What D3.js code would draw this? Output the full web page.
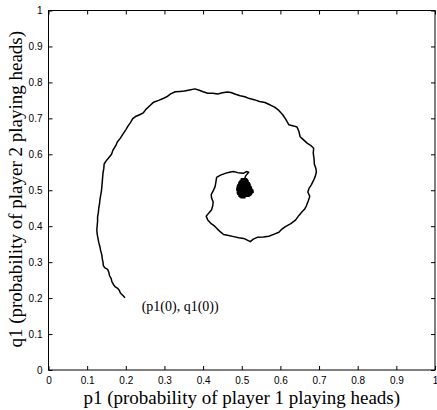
<!DOCTYPE html>
<html lang="en">
  <head>
    <meta charset="UTF-8" />
    <title>Trajectory of p1, q1</title>
    <style>
      body {
        margin: 0;
        background: #fff;
      }
      .tick text {
        font-family: "Liberation Sans", Arial, sans-serif;
        font-size: 10px;
        fill: #000;
      }
      .axis-title {
        font-family: "Liberation Serif", "Times New Roman", serif;
        font-size: 19px;
        fill: #000;
      }
      .note {
        font-family: "Liberation Serif", "Times New Roman", serif;
        font-size: 14px;
        fill: #000;
      }
      .traj {
        fill: none;
        stroke: #000;
        stroke-width: 1.5px;
        stroke-linejoin: round;
      }
    </style>
  </head>
  <body>
    <svg width="437" height="410"></svg>

    <script src="https://d3js.org/d3.v7.min.js"></script>
    <script>
      // tick values for both axes
      const ticks = [0, 0.1, 0.2, 0.3, 0.4, 0.5, 0.6, 0.7, 0.8, 0.9, 1];

      // trajectory, outer spiral
      const p1 = [
        0.198, 0.192, 0.186, 0.183, 0.178, 0.172, 0.168, 0.164, 0.162, 0.158,
        0.156, 0.153, 0.146, 0.142, 0.141, 0.139, 0.138, 0.135, 0.133, 0.13,
        0.128, 0.126, 0.125, 0.126, 0.127, 0.127, 0.129, 0.13, 0.132, 0.133,
        0.135, 0.137, 0.138, 0.139, 0.14, 0.141, 0.143, 0.144, 0.15, 0.158,
        0.163, 0.167, 0.174, 0.178, 0.186, 0.193, 0.2, 0.206, 0.212, 0.218,
        0.225, 0.236, 0.245, 0.252, 0.262, 0.272, 0.285, 0.298, 0.306, 0.316,
        0.328, 0.34, 0.352, 0.365, 0.379, 0.39, 0.4, 0.412, 0.425, 0.438,
        0.45, 0.463, 0.472, 0.484, 0.496, 0.508, 0.52, 0.532, 0.546, 0.56,
        0.574, 0.585, 0.596, 0.606, 0.614, 0.622, 0.634, 0.643, 0.648, 0.651,
        0.66, 0.669, 0.678, 0.686, 0.685, 0.687, 0.688, 0.692, 0.693, 0.69,
        0.686, 0.68, 0.674, 0.671, 0.676, 0.672, 0.667, 0.663, 0.656, 0.648,
        0.639, 0.627, 0.613, 0.604, 0.596, 0.584, 0.57, 0.556, 0.54, 0.53,
        0.522, 0.513, 0.505, 0.492, 0.479, 0.466, 0.453, 0.445, 0.437, 0.43,
        0.42, 0.412, 0.408, 0.416, 0.422, 0.425, 0.426, 0.422, 0.421, 0.426,
        0.431, 0.433, 0.435, 0.445, 0.457, 0.468, 0.478, 0.49, 0.504, 0.512,
        0.518, 0.51, 0.507
      ];
      const q1 = [
        0.201, 0.208, 0.214, 0.222, 0.228, 0.232, 0.238, 0.246, 0.255, 0.262,
        0.272, 0.28, 0.284, 0.29, 0.3, 0.31, 0.32, 0.332, 0.343, 0.355,
        0.366, 0.378, 0.39, 0.402, 0.414, 0.426, 0.438, 0.45, 0.462, 0.473,
        0.486, 0.498, 0.51, 0.522, 0.535, 0.548, 0.56, 0.573, 0.583, 0.593,
        0.6, 0.612, 0.624, 0.634, 0.645, 0.657, 0.668, 0.679, 0.688, 0.699,
        0.705, 0.71, 0.715, 0.725, 0.735, 0.745, 0.75, 0.756, 0.76, 0.768,
        0.774, 0.775, 0.776, 0.779, 0.782, 0.778, 0.774, 0.77, 0.77, 0.768,
        0.771, 0.773, 0.772, 0.767, 0.763, 0.76, 0.755, 0.752, 0.747, 0.744,
        0.737, 0.731, 0.722, 0.71, 0.697, 0.682, 0.679, 0.676, 0.663, 0.649,
        0.64, 0.631, 0.625, 0.617, 0.603, 0.588, 0.572, 0.56, 0.55, 0.538,
        0.528, 0.515, 0.505, 0.495, 0.483, 0.47, 0.456, 0.448, 0.44, 0.43,
        0.417, 0.407, 0.399, 0.392, 0.383, 0.378, 0.372, 0.37, 0.369, 0.364,
        0.357, 0.362, 0.366, 0.368, 0.371, 0.374, 0.377, 0.384, 0.392, 0.4,
        0.408, 0.417, 0.428, 0.438, 0.446, 0.457, 0.468, 0.478, 0.488, 0.498,
        0.51, 0.522, 0.536, 0.542, 0.547, 0.55, 0.552, 0.549, 0.547, 0.552,
        0.55, 0.54, 0.53
      ];

      // dense knot at the centre: rows of q with their p extent
      const knotQ = [0.53, 0.525, 0.52, 0.515, 0.51, 0.505, 0.5, 0.495, 0.49, 0.485, 0.481];
      const knotLo = [0.5, 0.497, 0.494, 0.492, 0.49, 0.489, 0.489, 0.49, 0.491, 0.494, 0.498];
      const knotHi = [0.512, 0.515, 0.518, 0.52, 0.522, 0.524, 0.527, 0.528, 0.524, 0.518, 0.51];

      const startLabel = "(p1(0), q1(0))";
      const startLabelPos = [0.241, 0.164];

      const W = 437,
        H = 410;
      const margin = { top: 10.5, right: 2, bottom: 40, left: 48.5 };
      const w = W - margin.left - margin.right,
        h = H - margin.top - margin.bottom;

      const svg = d3.select("svg");
      const g = svg
        .append("g")
        .attr("transform", `translate(${margin.left},${margin.top})`);

      const x = d3.scaleLinear().domain([0, 1]).range([0, w]);
      const y = d3.scaleLinear().domain([0, 1]).range([h, 0]);

      const fmt = (d) => (d === 0 || d === 1 ? String(d) : d.toFixed(1));

      // labelled axes, ticks pointing in
      g.append("g")
        .attr("transform", `translate(0,${h})`)
        .call(d3.axisBottom(x).tickValues(ticks).tickFormat(fmt).tickSizeInner(-4).tickSizeOuter(0).tickPadding(7))
        .call((a) => a.select(".domain").remove());
      g.append("g")
        .call(d3.axisLeft(y).tickValues(ticks).tickFormat(fmt).tickSizeInner(-4).tickSizeOuter(0).tickPadding(6))
        .call((a) => a.select(".domain").remove());
      // top and right ticks, no labels
      g.append("g")
        .call(d3.axisTop(x).tickValues(ticks).tickFormat("").tickSizeInner(-4).tickSizeOuter(0))
        .call((a) => a.select(".domain").remove());
      g.append("g")
        .attr("transform", `translate(${w},0)`)
        .call(d3.axisRight(y).tickValues(ticks).tickFormat("").tickSizeInner(-4).tickSizeOuter(0))
        .call((a) => a.select(".domain").remove());

      g.selectAll(".tick line").attr("stroke", "#000");

      g.append("rect")
        .attr("width", w)
        .attr("height", h)
        .attr("fill", "none")
        .attr("stroke", "#000")
        .attr("stroke-width", 1);

      const line = d3
        .line()
        .x((d) => x(d[0]))
        .y((d) => y(d[1]));

      const pts = p1.map((p, i) => [p, q1[i]]);
      g.append("path").datum(pts).attr("class", "traj").attr("d", line);

      // zigzag through the knot rows, drawn heavier so it fills in
      const knot = [pts[pts.length - 1]];
      knotQ.forEach((q, i) => {
        if (i % 2 === 0) {
          knot.push([knotLo[i], q], [knotHi[i], q]);
        } else {
          knot.push([knotHi[i], q], [knotLo[i], q]);
        }
      });
      g.append("path")
        .datum(knot)
        .attr("class", "traj")
        .style("stroke-width", "2.8px")
        .attr("d", line);

      g.append("text")
        .attr("class", "note")
        .attr("x", x(startLabelPos[0]))
        .attr("y", y(startLabelPos[1]))
        .text(startLabel);

      svg.append("text")
        .attr("class", "axis-title")
        .attr("x", margin.left + w / 2)
        .attr("y", 404)
        .attr("text-anchor", "middle")
        .text("p1 (probability of player 1 playing heads)");

      svg.append("text")
        .attr("class", "axis-title")
        .attr("transform", `translate(22,${margin.top + h / 2 - 1}) rotate(-90)`)
        .attr("text-anchor", "middle")
        .text("q1 (probability of player 2 playing heads)");
    </script>
  </body>
</html>
